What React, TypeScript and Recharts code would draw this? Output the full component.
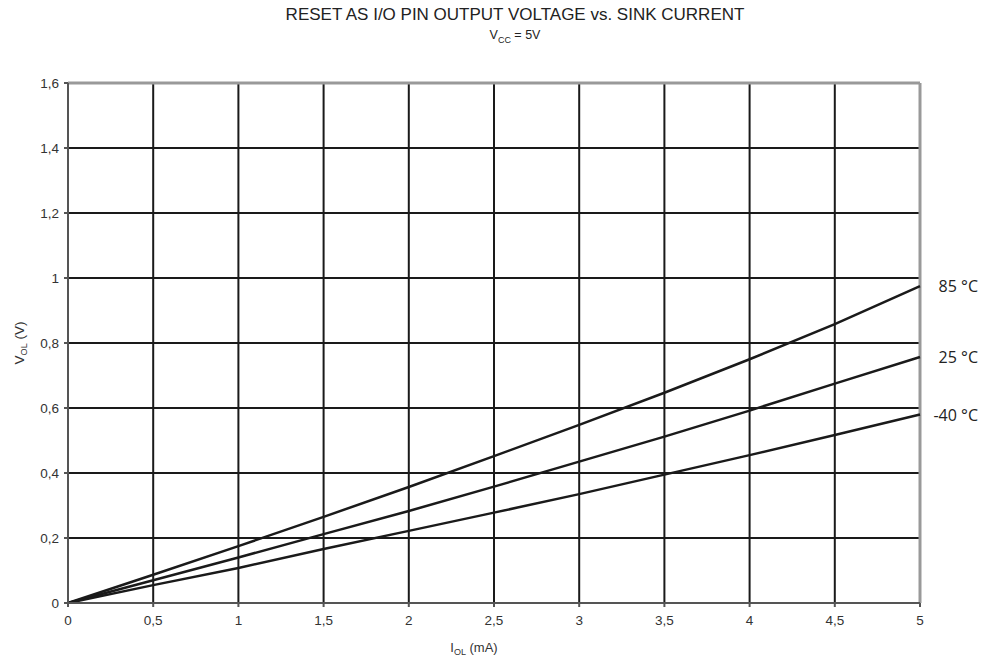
import { LineChart, Line, XAxis, YAxis, CartesianGrid, ReferenceLine, LabelList, Label } from "recharts";

const currents = [0, 0.5, 1, 1.5, 2, 2.5, 3, 3.5, 4, 4.5, 5];
const v85 = [0, 0.087, 0.175, 0.265, 0.357, 0.452, 0.548, 0.647, 0.75, 0.858, 0.975];
const v25 = [0, 0.07, 0.14, 0.212, 0.283, 0.358, 0.435, 0.512, 0.592, 0.675, 0.757];
const vm40 = [0, 0.055, 0.108, 0.166, 0.222, 0.278, 0.335, 0.395, 0.455, 0.517, 0.58];
const xTicks = [0, 0.5, 1, 1.5, 2, 2.5, 3, 3.5, 4, 4.5, 5];
const yTicks = [0, 0.2, 0.4, 0.6, 0.8, 1, 1.2, 1.4, 1.6];
const seriesNames = ["85 °C", "25 °C", "-40 °C"];

const data = currents.map((c, i) => ({ i: c, t85: v85[i], t25: v25[i], tm40: vm40[i] }));

const FONT = "'Liberation Sans', Arial, sans-serif";
const fmt = (v: number) => String(v).replace(".", ",");

function endLabel(name: string) {
  return (props: any) => {
    const { x, y, index } = props;
    if (index !== currents.length - 1) return null;
    return (
      <text x={x + 58} y={y + 6} textAnchor="end" fontSize={16} fill="#222" fontFamily="'Open Sans', sans-serif">
        {name}
      </text>
    );
  };
}

export default function App() {
  return (
    <div style={{ position: "absolute", left: 0, top: 0, width: 995, height: 662, background: "#fff", fontFamily: FONT }}>
      <div style={{ position: "absolute", top: 5, left: 0, width: 1030, textAlign: "center", fontSize: 17, color: "#222" }}>
        RESET AS I/O PIN OUTPUT VOLTAGE vs. SINK CURRENT
      </div>
      <div style={{ position: "absolute", top: 28, left: 0, width: 1030, textAlign: "center", fontSize: 12.5, color: "#222" }}>
        V<sub style={{ fontSize: 9 }}>CC</sub> = 5V
      </div>
      <LineChart width={995} height={662} data={data} margin={{ top: 83, right: 75, bottom: 29, left: 0 }}>
        <CartesianGrid stroke="#1a1a1a" strokeWidth={2} horizontalValues={yTicks} verticalValues={xTicks} />
        <XAxis
          dataKey="i"
          type="number"
          domain={[0, 5]}
          ticks={xTicks}
          height={30}
          tickFormatter={fmt}
          tick={{ fontSize: 13.5, fill: "#333", fontFamily: FONT }}
          stroke="#555"
          strokeWidth={2}
          tickSize={4}
          tickMargin={8}
        >
          <Label
            content={() => (
              <text x={474} y={652} textAnchor="middle" fontSize={13} fill="#333" fontFamily={FONT}>
                I<tspan fontSize={9} dy={3}>OL</tspan>
                <tspan dy={-3}> (mA)</tspan>
              </text>
            )}
          />
        </XAxis>
        <YAxis
          type="number"
          domain={[0, 1.6]}
          ticks={yTicks}
          width={68}
          tickFormatter={fmt}
          tick={{ fontSize: 13.5, fill: "#333", fontFamily: FONT }}
          stroke="#555"
          strokeWidth={2}
          tickSize={4}
          tickMargin={5}
        >
          <Label
            content={() => (
              <text x={24} y={343} transform="rotate(-90 24 343)" textAnchor="middle" fontSize={13.5} fill="#333" fontFamily={FONT}>
                V<tspan fontSize={9} dy={3}>OL</tspan>
                <tspan dy={-3}> (V)</tspan>
              </text>
            )}
          />
        </YAxis>
        <ReferenceLine y={1.6} stroke="#999" strokeWidth={3} />
        <ReferenceLine x={5} stroke="#999" strokeWidth={3} />
        <Line type="linear" dataKey="t85" stroke="#1a1a1a" strokeWidth={2.5} dot={false} isAnimationActive={false}>
          <LabelList content={endLabel(seriesNames[0])} />
        </Line>
        <Line type="linear" dataKey="t25" stroke="#1a1a1a" strokeWidth={2.5} dot={false} isAnimationActive={false}>
          <LabelList content={endLabel(seriesNames[1])} />
        </Line>
        <Line type="linear" dataKey="tm40" stroke="#1a1a1a" strokeWidth={2.5} dot={false} isAnimationActive={false}>
          <LabelList content={endLabel(seriesNames[2])} />
        </Line>
      </LineChart>
    </div>
  );
}
